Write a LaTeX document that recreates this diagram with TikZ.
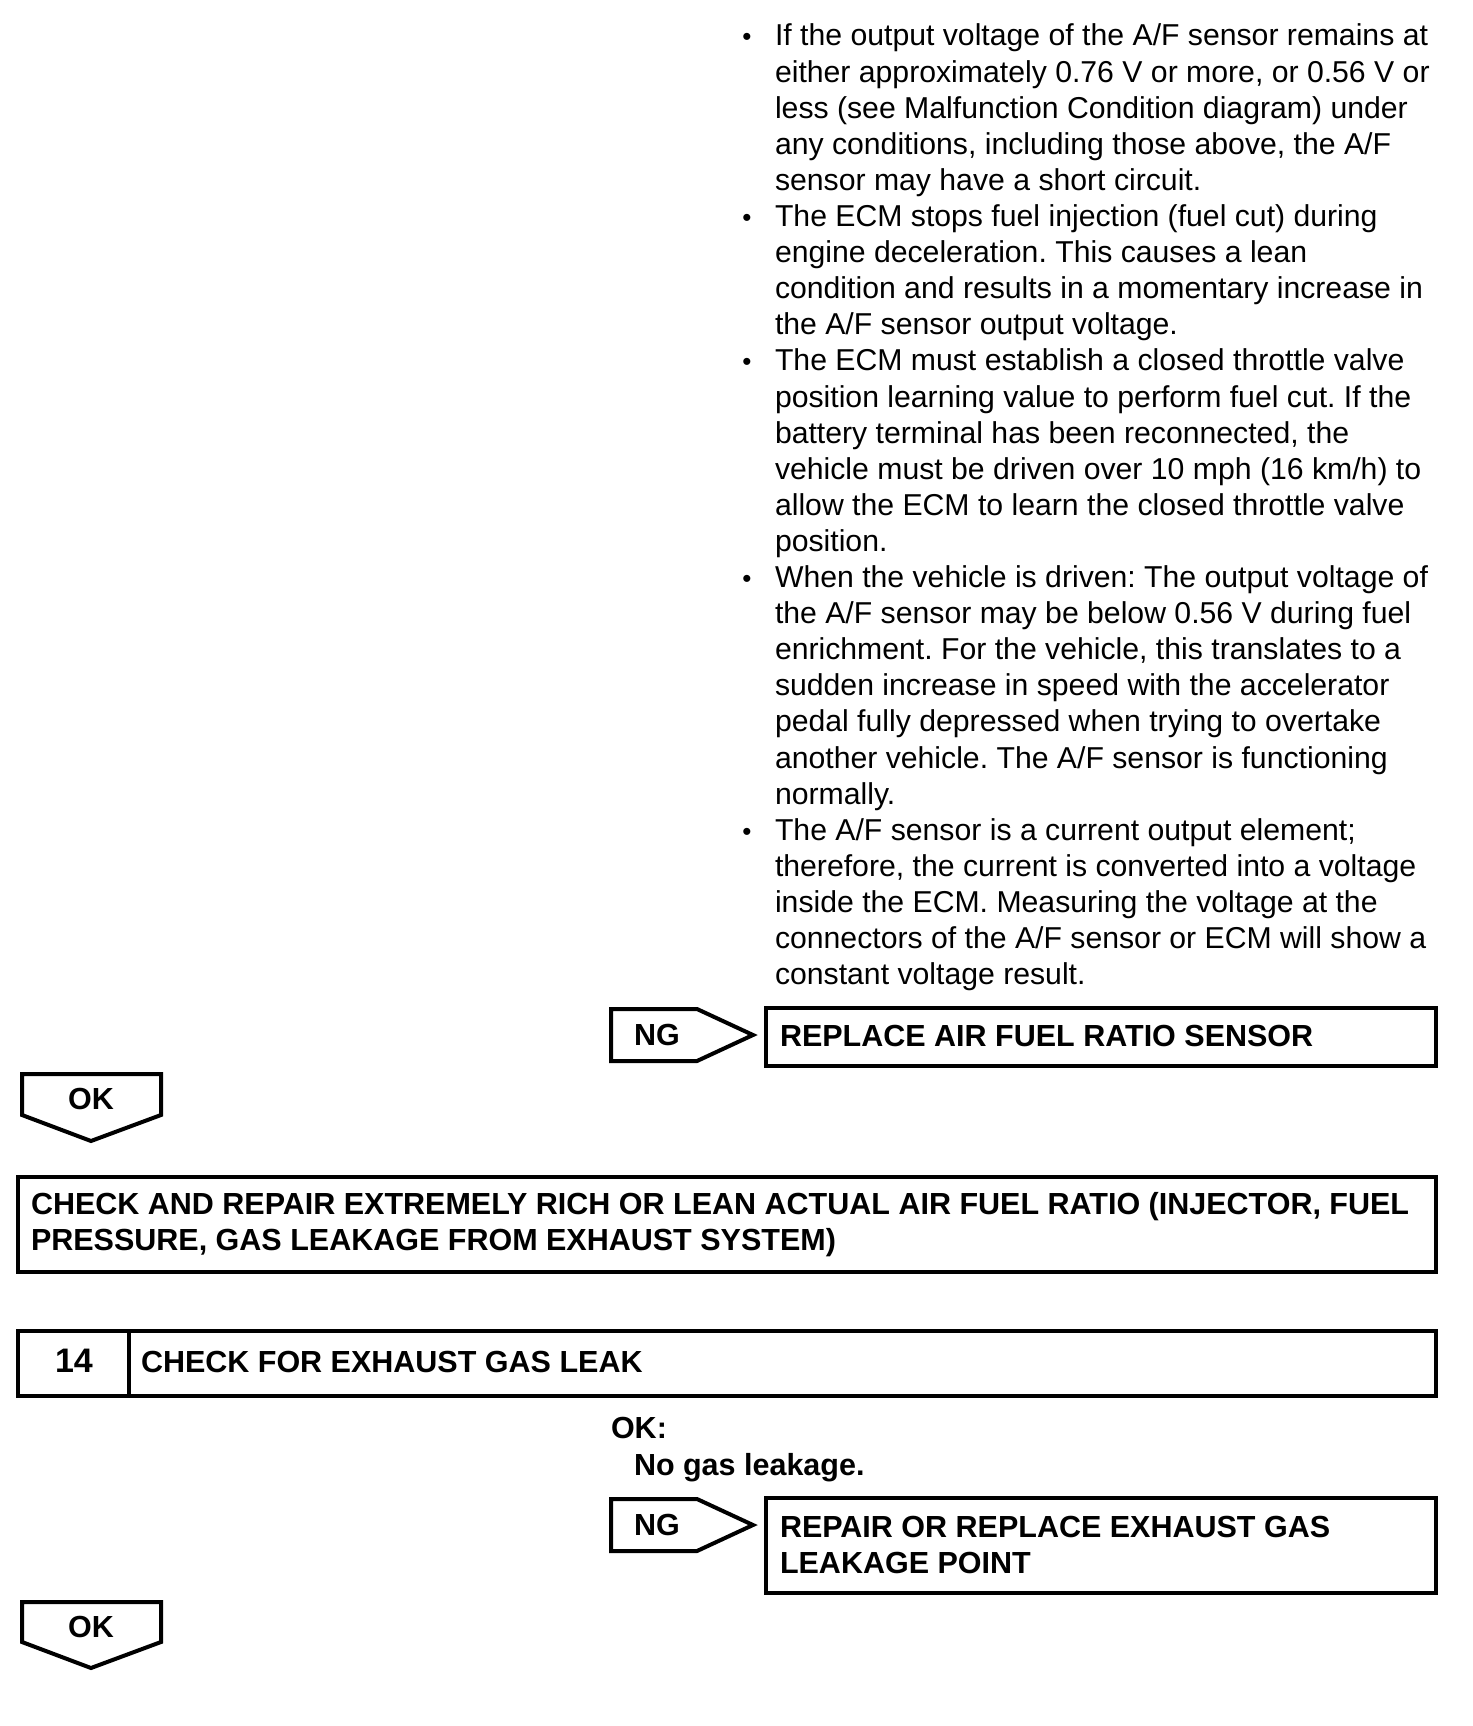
\documentclass[tikz,border=0pt]{standalone}
\usepackage{fontspec}
\setmainfont{Liberation Sans}
\frenchspacing
\begin{document}
\begin{tikzpicture}[x=1pt,y=-1pt,line width=4pt,line join=miter,
  txt/.style={font=\fontsize{30.2}{36.1}\selectfont,inner sep=0pt,outer sep=0pt,anchor=base west},
  btxt/.style={font=\fontsize{30.5}{36.1}\selectfont\bfseries,inner sep=0pt,outer sep=0pt,anchor=base west},
  bul/.style={font=\fontsize{26}{36.1}\selectfont,inner sep=0pt,outer sep=0pt,anchor=base},
  box/.style={draw,rectangle,inner sep=0pt,outer sep=0pt,anchor=north west},
  tag/.style={draw,line width=4pt,line join=miter}]
\useasboundingbox (0,0) rectangle (1472,1726);

% bullet list
\node[bul] (d1) at (747,46) {•};
\node[txt] (p1) at (775,46) {\begin{tabular}[t]{@{}l@{}}
If the output voltage of the A/F sensor remains at\\
either approximately 0.76 V or more, or 0.56 V or\\
less (see Malfunction Condition diagram) under\\
any conditions, including those above, the A/F\\
sensor may have a short circuit.\end{tabular}};
\node[bul] (d2) at (747,226.5) {•};
\node[txt] (p2) at (775,226.5) {\begin{tabular}[t]{@{}l@{}}
The ECM stops fuel injection (fuel cut) during\\
engine deceleration. This causes a lean\\
condition and results in a momentary increase in\\
the A/F sensor output voltage.\end{tabular}};
\node[bul] (d3) at (747,370.9) {•};
\node[txt] (p3) at (775,370.9) {\begin{tabular}[t]{@{}l@{}}
The ECM must establish a closed throttle valve\\
position learning value to perform fuel cut. If the\\
battery terminal has been reconnected, the\\
vehicle must be driven over 10 mph (16 km/h) to\\
allow the ECM to learn the closed throttle valve\\
position.\end{tabular}};
\node[bul] (d4) at (747,587.5) {•};
\node[txt] (p4) at (775,587.5) {\begin{tabular}[t]{@{}l@{}}
When the vehicle is driven: The output voltage of\\
the A/F sensor may be below 0.56 V during fuel\\
enrichment. For the vehicle, this translates to a\\
sudden increase in speed with the accelerator\\
pedal fully depressed when trying to overtake\\
another vehicle. The A/F sensor is functioning\\
normally.\end{tabular}};
\node[bul] (d5) at (747,840.2) {•};
\node[txt] (p5) at (775,840.2) {\begin{tabular}[t]{@{}l@{}}
The A/F sensor is a current output element;\\
therefore, the current is converted into a voltage\\
inside the ECM. Measuring the voltage at the\\
connectors of the A/F sensor or ECM will show a\\
constant voltage result.\end{tabular}};

% NG 1 and replace sensor
\draw[tag] (611,1009) -- (697,1009) -- (753,1035) -- (697,1061) -- (611,1061) -- cycle;
\node[btxt,anchor=center] (ng1) at (657,1035) {NG};
\node[box,minimum width=670pt,minimum height=58pt] (rep1) at (766,1008) {};
\node[btxt] (rep1t) at (780,1046) {REPLACE AIR FUEL RATIO SENSOR};

% OK 1
\draw[tag] (22,1074) -- (161,1074) -- (161,1115) -- (91,1141) -- (22,1115) -- cycle;
\node[btxt,anchor=center] (ok1) at (91,1099) {OK};

% check and repair
\node[box,minimum width=1418pt,minimum height=95pt] (rich) at (18,1177) {};
\node[btxt] (richt) at (31,1214) {\begin{tabular}[t]{@{}l@{}}
CHECK AND REPAIR EXTREMELY RICH OR LEAN ACTUAL AIR FUEL RATIO (INJECTOR, FUEL\\
PRESSURE, GAS LEAKAGE FROM EXHAUST SYSTEM)\end{tabular}};

% step 14
\node[box,minimum width=1418pt,minimum height=65pt] (s14) at (18,1331) {};
\draw (129,1331) -- (129,1396);
\node[font=\fontsize{34}{40}\selectfont\bfseries,inner sep=0pt,anchor=center] (n14) at (74,1361) {14};
\node[btxt] (s14t) at (141,1372) {CHECK FOR EXHAUST GAS LEAK};

\node[btxt] (okc) at (611,1438) {OK:};
\node[btxt] (okd) at (634,1475) {No gas leakage.};

% NG 2 and repair
\draw[tag] (611,1499) -- (697,1499) -- (753,1525) -- (697,1551) -- (611,1551) -- cycle;
\node[btxt,anchor=center] (ng2) at (657,1525) {NG};
\node[box,minimum width=670pt,minimum height=95pt] (rep2) at (766,1498) {};
\node[btxt] (rep2t) at (780,1537) {\begin{tabular}[t]{@{}l@{}}
REPAIR OR REPLACE EXHAUST GAS\\
LEAKAGE POINT\end{tabular}};

% OK 2
\draw[tag] (22,1602) -- (161,1602) -- (161,1642) -- (91,1668) -- (22,1642) -- cycle;
\node[btxt,anchor=center] (ok2) at (91,1627) {OK};
\end{tikzpicture}
\end{document}
